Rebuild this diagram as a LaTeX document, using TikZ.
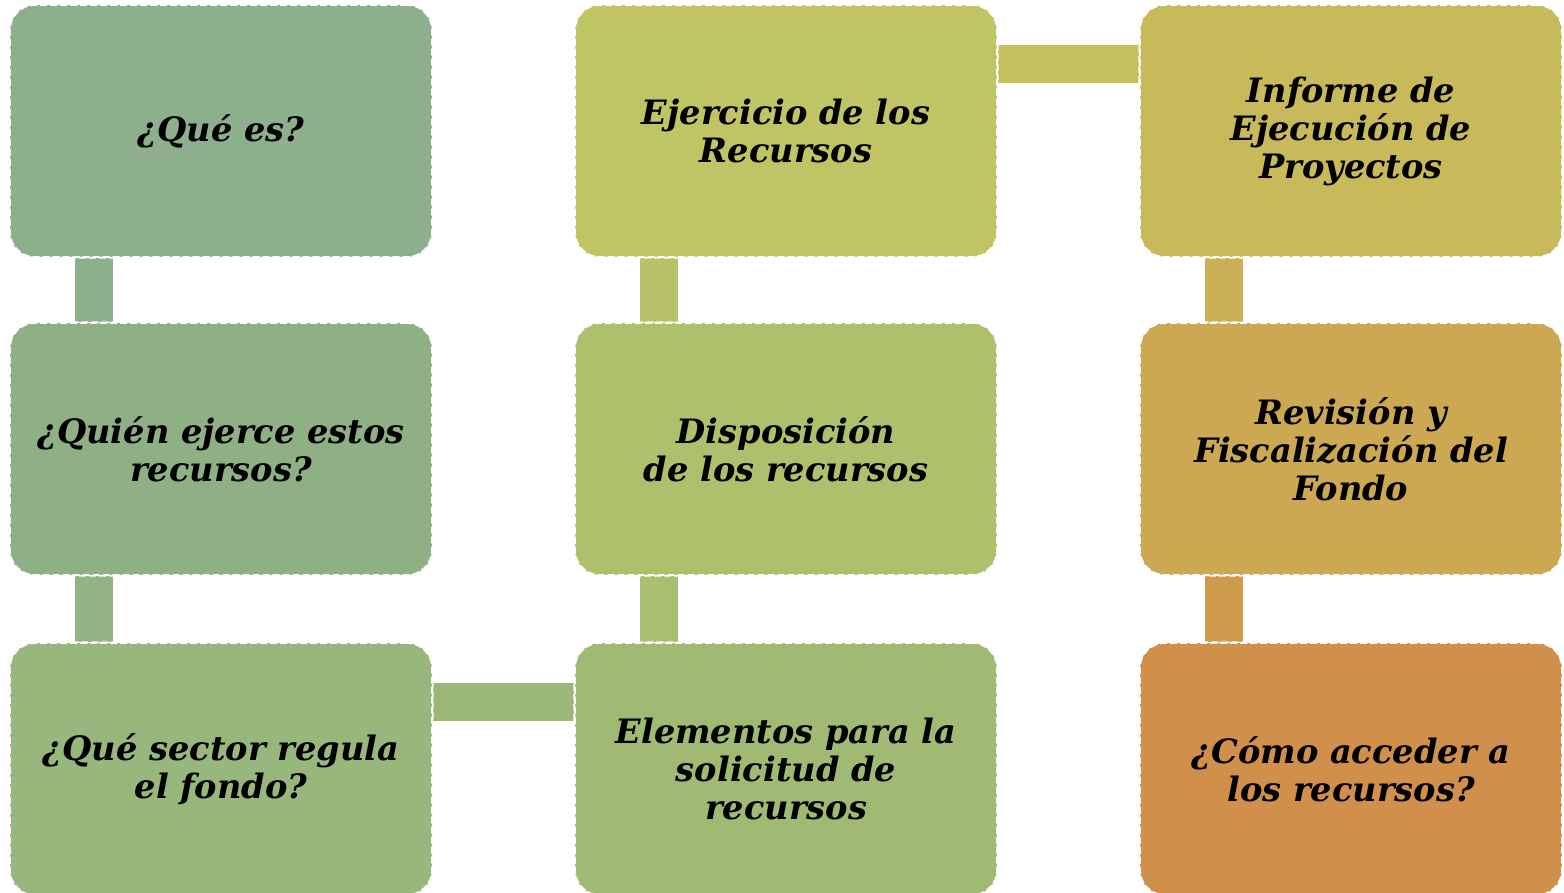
\documentclass[tikz,border=0pt]{standalone}
\usepackage{fontspec}
\setmainfont{DejaVu Serif}
\definecolor{cA}{HTML}{8EAF8C}
\definecolor{cB}{HTML}{8FB085}
\definecolor{cC}{HTML}{97B77D}
\definecolor{cD}{HTML}{A0BA74}
\definecolor{cE}{HTML}{AEC06C}
\definecolor{cF}{HTML}{C0C465}
\definecolor{cG}{HTML}{C8B95B}
\definecolor{cH}{HTML}{CBA851}
\definecolor{cI}{HTML}{D08F4A}
\definecolor{kAB}{HTML}{8EAF8B}
\definecolor{kBC}{HTML}{92B383}
\definecolor{kCD}{HTML}{9BB879}
\definecolor{kDE}{HTML}{A8BE70}
\definecolor{kEF}{HTML}{B8C268}
\definecolor{kFG}{HTML}{C6BF5E}
\definecolor{kGH}{HTML}{C9B056}
\definecolor{kHI}{HTML}{CE9A4C}
\tikzset{
  box/.style={rounded corners=12.5pt, minimum width=211pt, minimum height=126pt,
    draw=white, line width=0.8pt, dash pattern=on 3.5pt off 1.5pt,
    align=center, inner sep=0pt,
    font=\fontsize{16.8pt}{19pt}\selectfont\bfseries\itshape},
  boxedge/.style={white, line width=0.8pt, dash pattern=on 3.5pt off 1.5pt, rounded corners=12.5pt},
}
\begin{document}
\begin{tikzpicture}[x=0.5pt,y=-0.5pt]
\useasboundingbox (0,0) rectangle (1564,893);
\begin{scope}
\clip (0,0) rectangle (1564,893);
\path
  (221,131) coordinate (pA)
  (221,449) coordinate (pB)
  (221,769) coordinate (pC)
  (786,769) coordinate (pD)
  (786,449) coordinate (pE)
  (786,131) coordinate (pF)
  (1351,131) coordinate (pG)
  (1351,449) coordinate (pH)
  (1351,769) coordinate (pI);
\node[box, fill=cA] (a) at (pA) {¿Qué es?};
\node[box, fill=cB] (b) at (pB) {¿Quién ejerce estos\\recursos?};
\node[box, fill=cC] (c) at (pC) {¿Qué sector regula\\el fondo?};
\node[box, fill=cD] (d) at (pD) {Elementos para la\\solicitud de\\recursos};
\node[box, fill=cE] (e) at (pE) {Disposición\\de los recursos};
\node[box, fill=cF] (f) at (pF) {Ejercicio de los\\Recursos};
\node[box, fill=cG] (g) at (pG) {Informe de\\Ejecución de\\Proyectos};
\node[box, fill=cH] (h) at (pH) {Revisión y\\Fiscalización del\\Fondo};
\node[box, fill=cI] (i) at (pI) {¿Cómo acceder a\\los recursos?};
% connectors
\fill[kAB] ([xshift=33pt]a.south west) rectangle ([xshift=52pt]b.north west);
\fill[kBC] ([xshift=33pt]b.south west) rectangle ([xshift=52pt]c.north west);
\fill[kCD] ([yshift=-20.5pt]c.north east) rectangle ([yshift=-39.5pt]d.north west);
\fill[kDE] ([xshift=33pt]e.south west) rectangle ([xshift=52pt]d.north west);
\fill[kEF] ([xshift=33pt]f.south west) rectangle ([xshift=52pt]e.north west);
\fill[kFG] ([yshift=-20.5pt]f.north east) rectangle ([yshift=-39.5pt]g.north west);
\fill[kGH] ([xshift=33pt]g.south west) rectangle ([xshift=52pt]h.north west);
\fill[kHI] ([xshift=33pt]h.south west) rectangle ([xshift=52pt]i.north west);
% borders over connectors
\foreach \n in {a,b,c,d,e,f,g,h,i}{
  \draw[boxedge] (\n.south west) rectangle (\n.north east);
}
\end{scope}
\end{tikzpicture}
\end{document}
